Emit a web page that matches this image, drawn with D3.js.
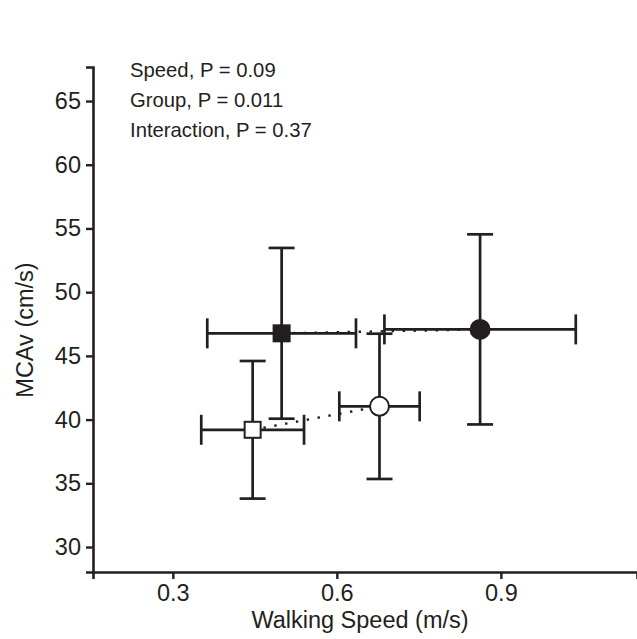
<!DOCTYPE html>
<html>
<head>
<meta charset="utf-8">
<script src="https://cdn.jsdelivr.net/npm/d3@7"></script>
<style>
  html, body { margin: 0; padding: 0; background: #fff; }
  svg { display: block; }
  text { font-family: "Liberation Sans", Arial, Helvetica, sans-serif; fill: #231f20; }
</style>
</head>
<body>
<div id="chart"></div>
<script>
// ---- data ----
const pointLabels = ["Group 1, slow", "Group 1, fast", "Group 2, slow", "Group 2, fast"];
const pointGroup = [0, 0, 1, 1];          // 0 = filled, 1 = open
const pointCondition = [0, 1, 0, 1];      // 0 = square, 1 = circle
const speedMean = [0.499, 0.862, 0.446, 0.678];
const speedErr = [0.136, 0.175, 0.094, 0.0735];
const mcavMean = [46.77, 47.08, 39.2, 41.04];
const mcavErr = [6.7, 7.46, 5.4, 5.7];
const xTicks = [0.3, 0.6, 0.9];
const yTicks = [30, 35, 40, 45, 50, 55, 60, 65];
const statLines = ["Speed, P = 0.09", "Group, P = 0.011", "Interaction, P = 0.37"];
const xTitle = "Walking Speed (m/s)";
const yTitle = "MCAv (cm/s)";

// ---- layout ----
const W = 637, H = 639;
const ink = "#231f20";
const x = d3.scaleLinear().domain([0.154, 1.149]).range([93, 637]);
const y = d3.scaleLinear().domain([28.04, 67.67]).range([572, 67]);

const svg = d3.select("#chart").append("svg").attr("width", W).attr("height", H);

// axes
const xAxis = svg.append("g").attr("transform", `translate(0,${y.range()[0]})`)
  .call(d3.axisBottom(x).tickValues(xTicks).tickFormat(d3.format(".1f")).tickSizeOuter(0).tickSize(7).tickPadding(5));
const yAxis = svg.append("g").attr("transform", `translate(${x.range()[0]},0)`)
  .call(d3.axisLeft(y).tickValues(yTicks).tickFormat(d3.format("d")).tickSizeOuter(0).tickSize(7).tickPadding(5));
[xAxis, yAxis].forEach(g => {
  g.select(".domain").attr("stroke", ink).attr("stroke-width", 2.6);
  g.selectAll(".tick line").attr("stroke", ink).attr("stroke-width", 2.4);
  g.selectAll(".tick text").attr("font-size", 23.5).attr("fill", ink)
    .style("font-family", '"Liberation Sans", Arial, sans-serif');
});

// axis titles
svg.append("text").attr("x", 360).attr("y", 628).attr("text-anchor", "middle")
  .attr("font-size", 23.5).text(xTitle);
svg.append("text").attr("transform", `translate(33,330) rotate(-90)`)
  .attr("text-anchor", "middle").attr("font-size", 23.5).text(yTitle);

// stats annotation
svg.append("g").selectAll("text").data(statLines).join("text")
  .attr("x", 130).attr("y", (d, i) => 77 + i * 30)
  .attr("font-size", 20.3).text(d => d);

// connecting dotted lines (same group)
const idx = d3.range(speedMean.length);
const groups = d3.groups(idx, i => pointGroup[i]);
const line = d3.line().x(i => x(speedMean[i])).y(i => y(mcavMean[i]));
svg.append("g").selectAll("path").data(groups).join("path")
  .attr("d", d => line(d[1]))
  .attr("fill", "none").attr("stroke", ink).attr("stroke-width", 2.4)
  .attr("stroke-dasharray", "2.4,8.6").attr("stroke-linecap", "butt");

// error bars
const eb = svg.append("g").attr("stroke", ink).attr("stroke-width", 2.7).attr("fill", "none");
const hCap = 13, vCap = 15;
idx.forEach(i => {
  const cx = x(speedMean[i]), cy = y(mcavMean[i]);
  const x0 = x(speedMean[i] - speedErr[i]), x1 = x(speedMean[i] + speedErr[i]);
  const y0 = y(mcavMean[i] - mcavErr[i]), y1 = y(mcavMean[i] + mcavErr[i]);
  eb.append("line").attr("x1", x0).attr("x2", x1).attr("y1", cy).attr("y2", cy);
  eb.append("line").attr("x1", cx).attr("x2", cx).attr("y1", y0).attr("y2", y1);
  eb.append("line").attr("x1", cx - hCap).attr("x2", cx + hCap).attr("y1", y0).attr("y2", y0);
  eb.append("line").attr("x1", cx - hCap).attr("x2", cx + hCap).attr("y1", y1).attr("y2", y1);
  eb.append("line").attr("x1", x0).attr("x2", x0).attr("y1", cy - vCap).attr("y2", cy + vCap);
  eb.append("line").attr("x1", x1).attr("x2", x1).attr("y1", cy - vCap).attr("y2", cy + vCap);
});

// markers
const mk = svg.append("g");
idx.forEach(i => {
  const cx = x(speedMean[i]), cy = y(mcavMean[i]);
  const fill = pointGroup[i] === 0 ? ink : "#ffffff";
  if (pointCondition[i] === 0) {
    mk.append("rect").attr("x", cx - 8).attr("y", cy - 8).attr("width", 16).attr("height", 16)
      .attr("fill", fill).attr("stroke", ink).attr("stroke-width", 2);
  } else {
    mk.append("circle").attr("cx", cx).attr("cy", cy).attr("r", 9.5)
      .attr("fill", fill).attr("stroke", ink).attr("stroke-width", 2);
  }
});
</script>
</body>
</html>
